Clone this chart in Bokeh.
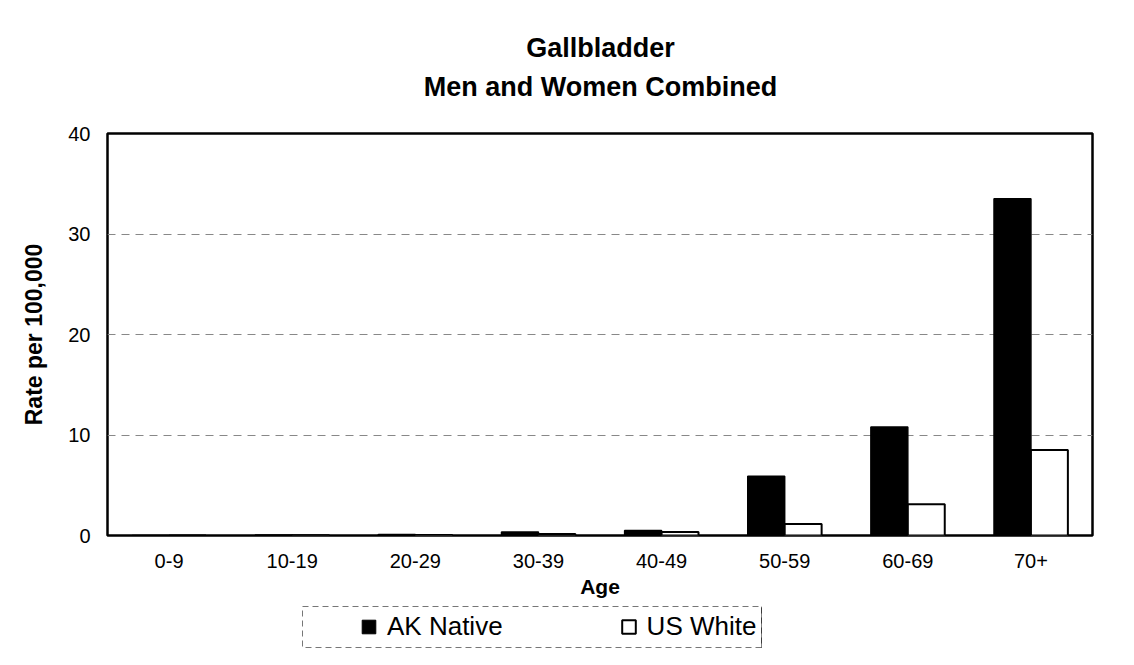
from bokeh.plotting import figure
from bokeh.models import (FactorRange, Range1d, Label, Legend, LegendItem, FixedTicker,
                          ColumnDataSource, Spacer)
from bokeh.layouts import column, row
from bokeh.transform import dodge
from bokeh.embed import file_html
from bokeh.resources import INLINE

ages = ["0-9", "10-19", "20-29", "30-39", "40-49", "50-59", "60-69", "70+"]
ak_native = [0.0, 0.05, 0.1, 0.35, 0.5, 5.9, 10.8, 33.5]
us_white = [0.0, 0.03, 0.05, 0.15, 0.35, 1.15, 3.1, 8.5]
y_ticks = [0, 10, 20, 30, 40]
series_names = ["AK Native", "US White"]
title_lines = ["Gallbladder", "Men and Women Combined"]

FONT = "Liberation Sans"
W = 1118

# ---- title strip (its frame is aligned with the chart frame by the column layout) ----
tf = figure(width=W, height=100, output_backend="svg", toolbar_location=None,
            x_range=Range1d(0, 1), y_range=Range1d(0, 1), min_border=0)
tf.axis.visible = False
tf.grid.visible = False
tf.outline_line_color = None
for txt, yy in zip(title_lines, [53, 14]):
    tf.add_layout(Label(x=493, y=yy, x_units="screen", y_units="screen", text=txt,
                        text_font=FONT, text_font_size="27px", text_font_style="bold",
                        text_align="center", text_baseline="middle", text_color="black"))

# ---- main chart ----
src = ColumnDataSource(dict(age=ages, ak=ak_native, us=us_white))
p = figure(width=W, height=506, x_range=FactorRange(*ages, range_padding=0),
           y_range=Range1d(0, 40), output_backend="svg", toolbar_location=None,
           min_border_left=107, min_border_right=26, min_border_top=33, min_border_bottom=71)
p.title = None

p.vbar(x=dodge("age", -0.15, range=p.x_range), top="ak", width=0.3, source=src,
       fill_color="black", line_color="black", line_width=1.5)
p.vbar(x=dodge("age", 0.15, range=p.x_range), top="us", width=0.3, source=src,
       fill_color="white", line_color="black", line_width=2)

p.outline_line_color = "black"
p.outline_line_width = 2.5
p.xgrid.grid_line_color = None
p.ygrid.grid_line_color = "#888888"
p.ygrid.grid_line_dash = "8 6"
p.ygrid.grid_line_width = 1
p.yaxis.ticker = FixedTicker(ticks=y_ticks)
for ax in (p.xaxis, p.yaxis):
    ax.minor_tick_line_color = None
    ax.major_tick_line_color = None
    ax.major_tick_out = 0
    ax.major_tick_in = 0
    ax.axis_line_color = None
    ax.major_label_text_font = FONT
    ax.major_label_text_font_size = "20px"
    ax.major_label_text_color = "black"
    ax.axis_label_text_font = FONT
    ax.axis_label_text_font_style = "bold"
    ax.axis_label_text_color = "black"
p.yaxis.major_label_standoff = 17
p.xaxis.major_label_standoff = 18
p.yaxis.axis_label = "Rate per 100,000"
p.yaxis.axis_label_text_font_size = "23px"
p.yaxis.axis_label_standoff = 18
p.xaxis.axis_label = "Age"
p.xaxis.axis_label_text_font_size = "21px"
p.xaxis.axis_label_standoff = 4

# ---- legend strip ----
lf = figure(width=460, height=42, output_backend="svg", toolbar_location=None,
            x_range=Range1d(0, 1), y_range=Range1d(0, 1), min_border=0)
lf.axis.visible = False
lf.grid.visible = False
lf.outline_line_color = "#777777"
lf.outline_line_dash = "6 4"
lf.outline_line_width = 1
# off-range swatch sources: only used to draw the legend glyphs
swatch = ColumnDataSource(dict(x=[5], top=[5]))
g1 = lf.vbar(x="x", top="top", width=0.1, source=swatch, fill_color="black", line_color="black")
g2 = lf.vbar(x="x", top="top", width=0.1, source=swatch, fill_color="white", line_color="black",
             line_width=2)
legend = Legend(items=[LegendItem(label=series_names[0], renderers=[g1]),
                       LegendItem(label=series_names[1], renderers=[g2])],
                orientation="horizontal", location=(58, 6),
                label_text_font=FONT, label_text_font_size="26px", label_text_color="black",
                glyph_width=17, glyph_height=17, spacing=117, padding=0,
                label_standoff=10, border_line_color=None, background_fill_alpha=0, margin=0)
lf.add_layout(legend, "center")

layout = column(tf, p, row(Spacer(width=302), lf, spacing=0), spacing=0)
open("out.html", "w").write(file_html(layout, INLINE))
